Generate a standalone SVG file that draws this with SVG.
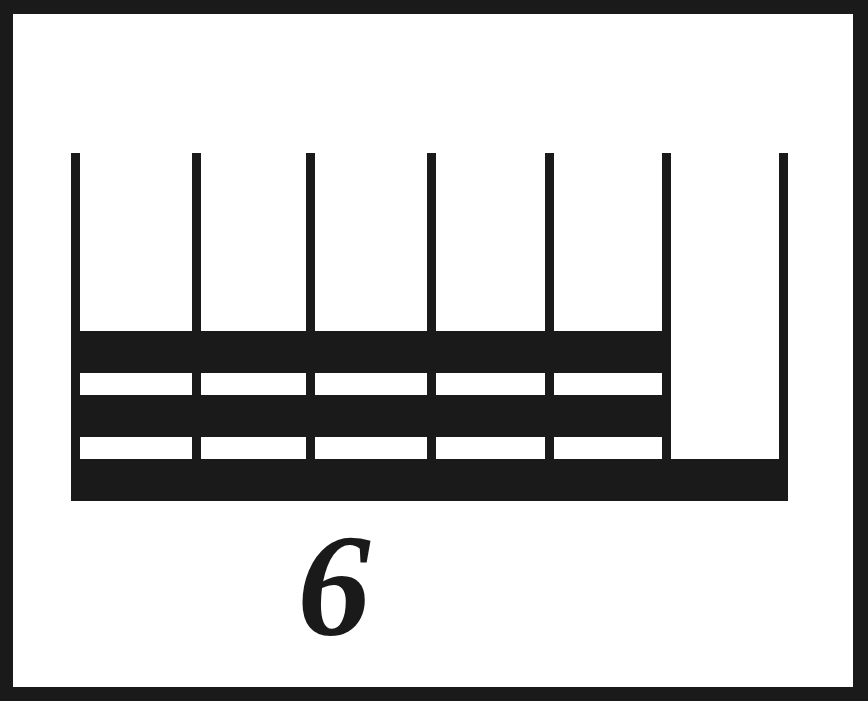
<svg xmlns="http://www.w3.org/2000/svg" width="868" height="701" viewBox="0 0 868 701">
<style>
.k{fill:#1a1a1a}
.t{font-family:"Liberation Serif","Times New Roman",serif;font-weight:bold;font-style:italic;font-size:146px;fill:#1a1a1a}
</style>
<rect x="0" y="0" width="868" height="701" class="k"/>
<rect x="13" y="14" width="840" height="673" fill="#ffffff"/>
<g id="rack">
<rect x="71" y="331" width="600" height="42" class="k"/>
<rect x="71" y="395" width="600" height="42" class="k"/>
<rect x="71" y="459" width="717" height="42" class="k"/>
<rect x="71" y="153" width="9" height="330" class="k"/>
<rect x="192" y="153" width="9" height="306" class="k"/>
<rect x="306" y="153" width="9" height="306" class="k"/>
<rect x="427" y="153" width="9" height="306" class="k"/>
<rect x="545" y="153" width="9" height="306" class="k"/>
<rect x="662" y="153" width="9" height="306" class="k"/>
<rect x="779" y="153" width="9" height="330" class="k"/>
</g>
<g id="label">
<text x="334" y="635" text-anchor="middle" class="t">6</text>
</g>
</svg>
